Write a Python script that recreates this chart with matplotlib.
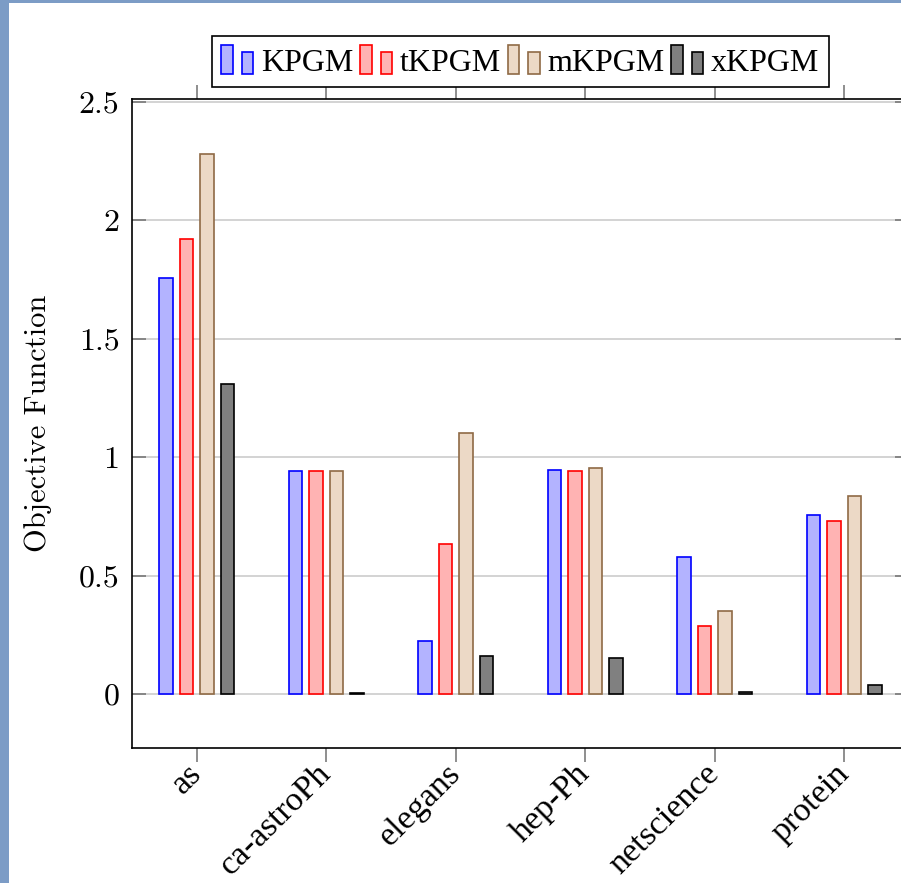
import matplotlib
matplotlib.use("Agg")
import matplotlib.pyplot as plt
import numpy as np
from matplotlib.patches import Rectangle
from matplotlib.legend_handler import HandlerBase
import matplotlib.transforms as mtransforms

categories = ["as", "ca-astroPh", "elegans", "hep-Ph", "netscience", "protein"]
series_names = ["KPGM", "tKPGM", "mKPGM", "xKPGM"]
kpgm = [1.759, 0.941, 0.225, 0.948, 0.578, 0.755]
tkpgm = [1.920, 0.941, 0.634, 0.940, 0.288, 0.732]
mkpgm = [2.281, 0.941, 1.101, 0.955, 0.351, 0.836]
xkpgm = [1.308, 0.003, 0.159, 0.152, 0.007, 0.040]
yticks = [0, 0.5, 1, 1.5, 2, 2.5]
ytick_labels = ["0", "0.5", "1", "1.5", "2", "2.5"]

series = [kpgm, tkpgm, mkpgm, xkpgm]
faces = ["#b3b3ff", "#ffb3b3", "#ecd9c6", "#808080"]
edges = ["#0000ff", "#ff0000", "#8f6a45", "#000000"]

W, H = 901, 883
fig = plt.figure(figsize=(W / 100, H / 100), dpi=100)
fig.patch.set_facecolor("#7c9cc6")
fig.add_artist(Rectangle((9 / W, 0), 1, (H - 3) / H, transform=fig.transFigure,
                         facecolor="white", edgecolor="none", zorder=0))

left, right, top, bottom = 132, 909, 99, 748
ax = fig.add_axes([left / W, (H - bottom) / H, (right - left) / W, (bottom - top) / H])
ax.set_zorder(1)

x = np.arange(len(categories))
spacing = 0.158
barw = 0.103
for i, (vals, fc, ec, name) in enumerate(zip(series, faces, edges, series_names)):
    ax.bar(x + (i - 1.5) * spacing, vals, width=barw, facecolor=fc, edgecolor=ec,
           linewidth=1.2, label=name, zorder=3)

ax.set_xlim(-0.5, 5.5)
ax.set_ylim(-0.228, 2.513)
ax.set_yticks(yticks)
ax.set_yticklabels(ytick_labels, fontfamily="cmr10", fontsize=23)
ax.set_xticks(x)
ax.set_xticklabels(categories, fontfamily="Liberation Serif", fontsize=24.5,
                   rotation=45, ha="right", va="center", rotation_mode="anchor")
offset = mtransforms.ScaledTranslation(-2 / 100, -1 / 100, fig.dpi_scale_trans)
for lab in ax.get_xticklabels():
    lab.set_transform(lab.get_transform() + offset)

ax.grid(axis="y", color="#c8c8c8", linewidth=1.1, zorder=0)
ax.set_axisbelow(True)
ax.tick_params(axis="y", direction="in", left=True, right=True, length=10,
               width=1.1, color="#707070", pad=9)
ax.tick_params(axis="x", direction="out", top=True, bottom=True, length=10,
               width=1.1, color="#707070", pad=5)
for sp in ax.spines.values():
    sp.set_color("black")
    sp.set_linewidth(1.2)

ax.set_ylabel("Objective Function", fontfamily="cmr10", fontsize=22)
ax.yaxis.set_label_coords(-0.103, 0.5)


class TwoBarHandler(HandlerBase):
    def create_artists(self, legend, orig_handle, xdescent, ydescent, width, height,
                       fontsize, trans):
        fc = orig_handle.get_facecolor()
        ec = orig_handle.get_edgecolor()
        w = width * 0.36
        r1 = Rectangle((-xdescent, -ydescent), w, height, facecolor=fc, edgecolor=ec,
                       linewidth=1.2, transform=trans)
        r2 = Rectangle((-xdescent + width - w, -ydescent), w, height * 0.76, facecolor=fc,
                       edgecolor=ec, linewidth=1.2, transform=trans)
        return [r1, r2]


handles, labels = ax.get_legend_handles_labels()
handles = [h.patches[0] for h in handles]
leg = ax.legend(handles, labels, ncol=4, loc="lower center", bbox_to_anchor=(0.5, 1.018),
                prop={"family": "Liberation Serif", "size": 23},
                handler_map={Rectangle: TwoBarHandler()},
                handlelength=1.0, handleheight=1.0, handletextpad=0.25,
                columnspacing=0.2, borderpad=0.3, borderaxespad=0,
                frameon=True, fancybox=False, framealpha=1, edgecolor="black")
leg.get_frame().set_linewidth(1.2)

fig.savefig("out.png", dpi=100)
